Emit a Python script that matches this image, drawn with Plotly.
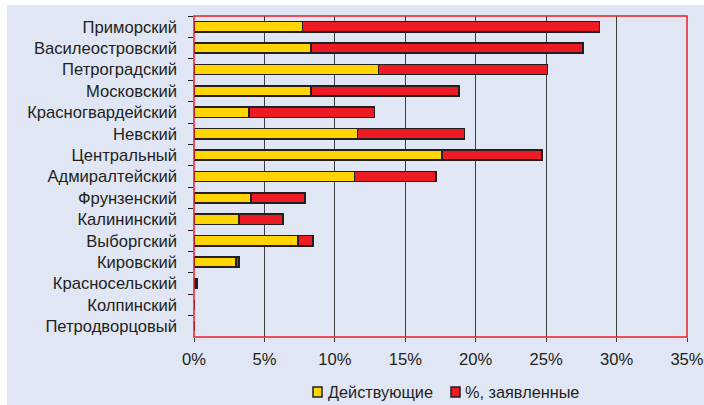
import plotly.graph_objects as go

districts = ["Приморский", "Василеостровский", "Петроградский", "Московский",
             "Красногвардейский", "Невский", "Центральный", "Адмиралтейский",
             "Фрунзенский", "Калининский", "Выборгский", "Кировский",
             "Красносельский", "Колпинский", "Петродворцовый"]
active = [7.7, 8.3, 13.1, 8.3, 3.9, 11.6, 17.6, 11.4, 4.05, 3.2, 7.4, 3.0, 0.1, 0, 0]
total = [28.8, 27.6, 25.1, 18.8, 12.8, 19.2, 24.7, 17.2, 7.9, 6.3, 8.45, 3.2, 0.2, 0, 0]
declared = [round(t - a, 2) for t, a in zip(total, active)]
x_ticks = [0, 5, 10, 15, 20, 25, 30, 35]
x_ticktext = [f"{v}%" for v in x_ticks]
series_names = ["Действующие", "%, заявленные"]
series_colors = ["#ffd400", "#ed1c24"]

BG = "#e0e6f3"
OUT = "#231f20"
FONT = "Liberation Sans, Arial, sans-serif"

fig = go.Figure()
fig.add_trace(go.Bar(y=districts, x=active, orientation="h", name=series_names[0],
                     marker=dict(color=series_colors[0], line=dict(color=OUT, width=1.6)),
                     width=0.48))
fig.add_trace(go.Bar(y=districts, x=declared, orientation="h", name=series_names[1],
                     marker=dict(color=series_colors[1], line=dict(color=OUT, width=1.6)),
                     width=0.48))

W, H = 704, 405
L, R, T, B = 194, 17, 16, 68
pw, ph = W - L - R, H - T - B

def px_x(x):
    return (x - L) / pw

def px_y(y):
    return (H - B - y) / ph

shapes = [
    dict(type="rect", xref="paper", yref="paper",
         x0=px_x(7), x1=px_x(W), y0=px_y(H), y1=px_y(5),
         fillcolor=BG, line=dict(width=0), layer="below"),
    dict(type="rect", xref="paper", yref="paper", x0=0, x1=1, y0=0, y1=1,
         line=dict(color="#ed1c24", width=1.5), layer="above"),
]
annotations = []
# manual legend
leg_items = [(313, 326), (451, 463)]
for (sx, tx), name, col in zip(leg_items, series_names, series_colors):
    shapes.append(dict(type="rect", xref="paper", yref="paper",
                       x0=px_x(sx), x1=px_x(sx + 9), y0=px_y(397), y1=px_y(387),
                       fillcolor=col, line=dict(color=OUT, width=1.5)))
    annotations.append(dict(xref="paper", yref="paper", x=px_x(tx), y=px_y(392),
                            xanchor="left", yanchor="middle", text=name,
                            showarrow=False, font=dict(size=16.3, family=FONT, color=OUT)))

fig.update_layout(
    width=W, height=H,
    margin=dict(l=L, r=R, t=T, b=B, autoexpand=False),
    barmode="stack",
    paper_bgcolor="white",
    plot_bgcolor=BG,
    font=dict(family=FONT, size=16.6, color=OUT),
    showlegend=False,
    xaxis=dict(range=[0, 35], tickvals=x_ticks, ticktext=x_ticktext,
               showgrid=True, gridcolor="#3c3c3c", gridwidth=1,
               ticks="outside", ticklen=4, tickcolor="#3c3c3c",
               ticklabelstandoff=3, automargin=False,
               zeroline=False, showline=False, fixedrange=True),
    yaxis=dict(categoryorder="array", categoryarray=districts, autorange="reversed",
               tickson="boundaries", ticks="outside", ticklen=5, tickcolor=OUT,
               showgrid=False, showline=False, ticklabelstandoff=16, automargin=False),
    shapes=shapes,
    annotations=annotations,
)
fig.write_html("out.html")
